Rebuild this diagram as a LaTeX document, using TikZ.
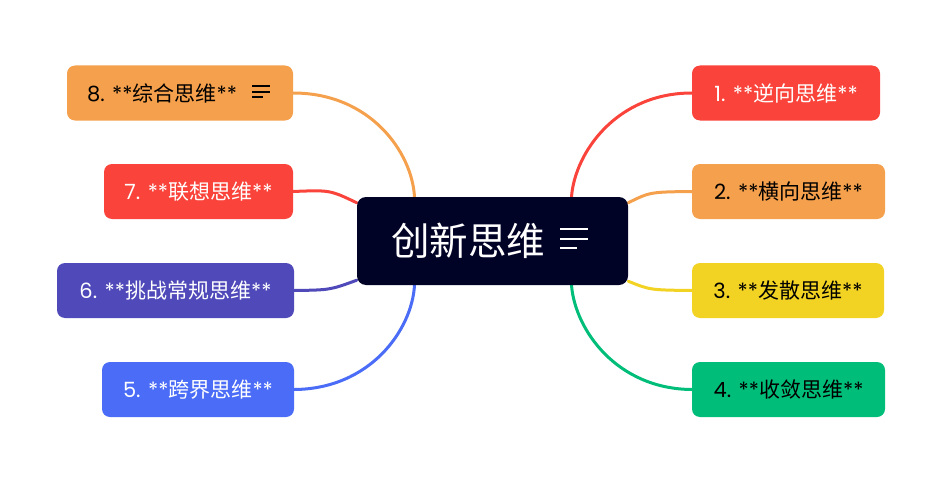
\documentclass[tikz,border=0pt]{standalone}
\usepackage{fontspec}
\setmainfont{Poppins}
\newfontfamily\cjk{Noto Sans CJK SC}
\newfontfamily\latf{Poppins}
\usetikzlibrary{backgrounds}
\definecolor{cred}{RGB}{250,67,58}
\definecolor{corange}{RGB}{245,160,76}
\definecolor{cyellow}{RGB}{242,211,35}
\definecolor{cgreen}{RGB}{0,190,122}
\definecolor{cindigo}{RGB}{79,73,185}
\definecolor{cblue}{RGB}{74,108,247}
\definecolor{cnavy}{RGB}{0,2,38}
\newcommand\lbl[3]{{\latf #1}{\cjk #2}{\latf #3}}
\tikzset{
  branch/.style={rounded corners=8pt, minimum height=55pt, inner sep=0pt, font=\fontsize{21}{25}\selectfont, anchor=center},
  wtext/.style={text=white},
  btext/.style={text=black},
  conn/.style={line width=3pt, line cap=round},
  iconline/.style={line width=2pt},
}
\begin{document}
\begin{tikzpicture}[x=1pt,y=-1pt]
\useasboundingbox (0,0) rectangle (943,487);
% center
\node[fill=cnavy, rounded corners=9pt, minimum width=271pt, minimum height=88pt, inner sep=0pt, text=white, font=\fontsize{38.5}{42}\selectfont] (c) at (492.5,241) {{\cjk 创新思维}\kern49pt};
\draw[iconline, white] ([xshift=-68pt,yshift=12pt]c.east) -- ++(28,0);
\draw[iconline, white] ([xshift=-68pt,yshift=2pt]c.east) -- ++(28,0);
\draw[iconline, white] ([xshift=-68pt,yshift=-7pt]c.east) -- ++(17,0);
% right branches
\node[branch, wtext, fill=cred, minimum width=188pt] (b1) at (786,93) {\lbl{1. **}{逆向思维}{**}};
\node[branch, btext, fill=corange, minimum width=193pt] (b2) at (788.5,191.5) {\lbl{2. **}{横向思维}{**}};
\node[branch, btext, fill=cyellow, minimum width=192pt] (b3) at (788,290.5) {\lbl{3. **}{发散思维}{**}};
\node[branch, btext, fill=cgreen, minimum width=193pt] (b4) at (788.5,389.5) {\lbl{4. **}{收敛思维}{**}};
% left branches
\node[branch, btext, fill=corange, minimum width=226pt] (b8) at (180,93) {\lbl{8. **}{综合思维}{**}\kern36pt};
\draw[iconline, black, line width=1.5pt] ([xshift=-41pt,yshift=7pt]b8.east) -- ++(18,0);
\draw[iconline, black, line width=1.5pt] ([xshift=-41pt,yshift=1pt]b8.east) -- ++(18,0);
\draw[iconline, black, line width=1.5pt] ([xshift=-41pt,yshift=-4pt]b8.east) -- ++(11,0);
\node[branch, wtext, fill=cred, minimum width=189pt] (b7) at (198.5,191.5) {\lbl{7. **}{联想思维}{**}};
\node[branch, wtext, fill=cindigo, minimum width=237pt] (b6) at (175.5,290.5) {\lbl{6. **}{挑战常规思维}{**}};
\node[branch, wtext, fill=cblue, minimum width=192pt] (b5) at (198,389.5) {\lbl{5. **}{跨界思维}{**}};
% connectors
\begin{pgfonlayer}{background}
\draw[conn, cred] ([xshift=79pt]c.north) .. controls (575,152) and (617,93) .. (b1.west);
\draw[conn, corange] ([yshift=-6pt]c.north east) .. controls (650,192) .. (b2.west);
\draw[conn, cyellow] ([yshift=4pt]c.south east) .. controls (650,290) .. (b3.west);
\draw[conn, cgreen] ([xshift=79pt]c.south) .. controls (575,330) and (617,389) .. (b4.west);
\draw[conn, corange] ([xshift=-78pt]c.north) .. controls (412,152) and (370,93) .. (b8.east);
\draw[conn, cred] ([yshift=-6pt]c.north west) .. controls (330,190) .. (b7.east);
\draw[conn, cindigo] ([yshift=5pt]c.south west) .. controls (330,290) .. (b6.east);
\draw[conn, cblue] ([xshift=-78pt]c.south) .. controls (412,330) and (370,389) .. (b5.east);
\end{pgfonlayer}
\end{tikzpicture}
\end{document}
